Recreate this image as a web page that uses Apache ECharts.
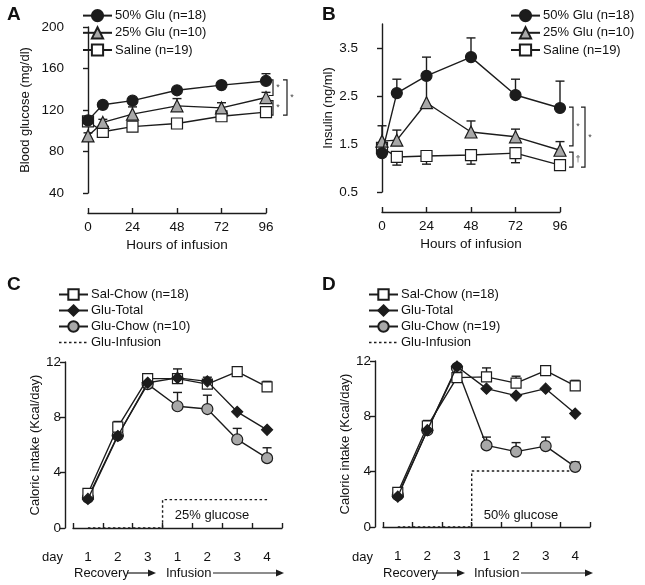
<!DOCTYPE html>
<html><head><meta charset="utf-8">
<script src="https://cdn.jsdelivr.net/npm/echarts@6/dist/echarts.min.js"></script>
<style>html,body{margin:0;padding:0;background:#fff}#c{width:645px;height:585px}</style>
</head><body><div id="c"></div>
<script>
// ---------- Data ----------
const hours = [0, 8, 24, 48, 72, 96];
const hourTicks = [0, 24, 48, 72, 96];
// Panel A: blood glucose (mg/dl)
const A_glu50 = [110, 125, 129, 139, 144, 148];
const A_glu50_err = [3, 2, 2, 2, 3, 7];
const A_glu25 = [95, 108, 116, 124, 122, 132];
const A_glu25_err = [3, 3, 7, 7, 5, 5];
const A_saline = [109, 99, 104, 107, 114, 118];
const A_saline_err = [2, 2, 2, 2, 2, 2];
const A_ticks = [40, 80, 120, 160, 200];
// Panel B: insulin (ng/ml)
const B_glu50 = [1.31, 2.56, 2.92, 3.31, 2.52, 2.25];
const B_glu50_err = [0.05, 0.29, 0.39, 0.40, 0.33, 0.56];
const B_glu25 = [1.56, 1.58, 2.36, 1.75, 1.65, 1.37];
const B_glu25_err = [0.32, 0.21, 0.50, 0.23, 0.16, 0.18];
const B_saline = [1.42, 1.23, 1.25, 1.27, 1.31, 1.06];
const B_saline_err = [0.05, 0.17, 0.17, 0.19, 0.20, 0.05];
const B_ticks = [0.5, 1.5, 2.5, 3.5];
// Panels C/D: caloric intake (Kcal/day)
const days = ['1', '2', '3', '1', '2', '3', '4'];
const dayIdx = [0, 1, 2, 3, 4, 5, 6];
const C_salChow = [2.5, 7.3, 10.8, 10.8, 10.4, 11.3, 10.2];
const C_salChow_err = [0.2, 0.4, 0.3, 0.7, 0.5, 0.3, 0.4];
const C_gluTotal = [2.1, 6.65, 10.5, 10.85, 10.6, 8.4, 7.1];
const C_gluChow = [2.2, 6.7, 10.4, 8.8, 8.6, 6.4, 5.05];
const C_gluChow_err = [0, 0, 0, 1.0, 1.0, 0.8, 0.75];
const C_infusion = [0, 0, 0, 2.05, 2.05, 2.05, 2.05];
const D_salChow = [2.5, 7.3, 10.8, 10.85, 10.4, 11.3, 10.2];
const D_salChow_err = [0.2, 0.4, 0.3, 0.65, 0.5, 0.3, 0.4];
const D_gluTotal = [2.2, 7.0, 11.6, 10.0, 9.5, 10.0, 8.2];
const D_gluChow = [2.3, 7.0, 11.5, 5.9, 5.45, 5.85, 4.35];
const D_gluChow_err = [0, 0, 0, 0.6, 0.65, 0.65, 0.35];
const D_infusion = [0, 0, 0, 4.05, 4.05, 4.05, 4.05];
// significance brackets [yTop, yBottom, mark]
const A_brackets = [[149, 134, '*'], [129, 115, '*']];
const A_outer = [[149, 115, '*']];
const B_brackets = [[2.27, 1.46, '*'], [1.33, 1.02, '\u2020']];
const B_outer = [[2.27, 1.02, '*']];

// ---------- Styles ----------
const FONT = 'Liberation Sans';
const INK = '#1c1c1c';
const GREY = '#a8a8a8';
const LW = 1.4;

function pairs(xs, ys) { return ys.map((v, i) => [xs[i], v]); }

function lineSeries(name, data, xi, symbol, fill, size, z) {
  return {
    type: 'line', name, data, xAxisIndex: xi, yAxisIndex: xi,
    symbol, symbolSize: size, showSymbol: true,
    lineStyle: { color: INK, width: LW },
    itemStyle: { color: fill, borderColor: INK, borderWidth: 1.2 },
    z: z || 3, animation: false, clip: false
  };
}
function stepSeries(name, data, xi) {
  return {
    type: 'line', name, data, xAxisIndex: xi, yAxisIndex: xi, step: 'middle',
    symbol: 'none', lineStyle: { color: INK, width: 1.4, type: [2.5, 2.5] },
    itemStyle: { color: INK }, z: 2, animation: false, clip: false
  };
}
function errSeries(xs, ys, errs, xi, dir) {
  const data = ys.map((v, i) => [xs[i], v, v + dir * errs[i]]);
  return {
    type: 'custom', xAxisIndex: xi, yAxisIndex: xi, data, z: 1, silent: true,
    encode: { x: 0, y: [1, 2] }, clip: false, animation: false,
    renderItem(params, api) {
      const p0 = api.coord([api.value(0), api.value(1)]);
      const p1 = api.coord([api.value(0), api.value(2)]);
      const st = { stroke: INK, lineWidth: LW };
      return { type: 'group', children: [
        { type: 'line', shape: { x1: p0[0], y1: p0[1], x2: p1[0], y2: p1[1] }, style: st },
        { type: 'line', shape: { x1: p1[0] - 4.5, y1: p1[1], x2: p1[0] + 4.5, y2: p1[1] }, style: st }
      ] };
    }
  };
}
function bracketSeries(list, xi, xv, gap) {
  return {
    type: 'custom', xAxisIndex: xi, yAxisIndex: xi, silent: true,
    data: list.map(b => [xv, b[0], b[1]]), encode: { x: 0, y: [1, 2] },
    clip: false, animation: false, z: 2,
    renderItem(params, api) {
      const a = api.coord([api.value(0), api.value(1)]);
      const b = api.coord([api.value(0), api.value(2)]);
      const x = a[0] + gap;
      const st = { stroke: INK, lineWidth: 1.2, fill: null };
      return { type: 'group', children: [
        { type: 'polyline', shape: { points: [[x - 4, a[1]], [x, a[1]], [x, b[1]], [x - 4, b[1]]] }, style: st },
        { type: 'text', x: x + 5, y: (a[1] + b[1]) / 2, style: { text: list[params.dataIndex][2], fontSize: 9, fill: '#444', fontFamily: FONT, align: 'center', verticalAlign: 'middle' } }
      ] };
    }
  };
}

const axisLineStyle = { lineStyle: { color: INK, width: LW } };
const labelStyle = { color: '#111', fontSize: 13.5, fontFamily: FONT };
function yAx(gi, min, max, ticks, name, nameGap, offset) {
  return {
    gridIndex: gi, type: 'value', min, max, offset,
    name, nameLocation: 'middle', nameGap, nameRotate: 90,
    nameTextStyle: { color: '#111', fontSize: 13, fontFamily: FONT },
    axisLine: Object.assign({ show: true }, axisLineStyle),
    axisTick: { show: true, length: 5, customValues: ticks, lineStyle: { color: INK, width: LW } },
    axisLabel: Object.assign({ margin: 4, customValues: ticks }, labelStyle),
    splitLine: { show: false }
  };
}
function xHours(gi) {
  return {
    gridIndex: gi, type: 'value', min: 0, max: 96, offset: 20,
    name: 'Hours of infusion', nameLocation: 'middle', nameGap: 25,
    nameTextStyle: { color: '#111', fontSize: 13.5, fontFamily: FONT },
    axisLine: Object.assign({ show: true }, axisLineStyle),
    axisTick: { show: true, inside: true, length: 5, customValues: hourTicks, lineStyle: { color: INK, width: LW } },
    axisLabel: Object.assign({ margin: 7, customValues: hourTicks }, labelStyle),
    splitLine: { show: false }
  };
}
function xDays(gi) {
  return {
    gridIndex: gi, type: 'category', data: days, boundaryGap: true, offset: 17,
    axisLine: Object.assign({ show: true }, axisLineStyle),
    axisTick: { show: true, inside: true, length: 5, alignWithLabel: false, lineStyle: { color: INK, width: LW } },
    axisLabel: Object.assign({ margin: 5 }, labelStyle),
    splitLine: { show: false }
  };
}
function legend(left, top, names, ih, gap) {
  return {
    left, top, orient: 'vertical', selectedMode: false,
    data: names.map(n => n === 'Glu-Infusion'
      ? { name: n, itemStyle: { opacity: 0 }, lineStyle: { type: [2.5, 2.5], width: 1.4, color: INK } }
      : { name: n }),
    itemWidth: 29, itemHeight: ih, itemGap: gap, padding: [5, 5, 5, 5],
    textStyle: { color: '#111', fontSize: 13, fontFamily: FONT, padding: [0, 0, 0, -2] }
  };
}

function arrowGroup(x1, x2, y) {
  return { type: 'group', children: [
    { type: 'line', shape: { x1, y1: y, x2: x2 - 6, y2: y }, style: { stroke: INK, lineWidth: 1.2 } },
    { type: 'polygon', shape: { points: [[x2, y], [x2 - 8, y - 3.5], [x2 - 8, y + 3.5]] }, style: { fill: INK } }
  ] };
}
function txt(x, y, text, size, weight, align) {
  return { type: 'text', x, y, style: { text, fontSize: size, fontWeight: weight || 'normal', fontFamily: FONT, fill: '#111', align: align || 'left', verticalAlign: 'middle' } };
}

const option = {
  backgroundColor: '#fff',
  animation: false,
  grid: [
    { left: 88, top: 27, width: 178, height: 166 },
    { left: 382, top: 24, width: 178, height: 168 },
    { left: 73, top: 362, width: 209, height: 166 },
    { left: 383, top: 361, width: 207, height: 166 }
  ],
  xAxis: [xHours(0), xHours(1), xDays(2), xDays(3)],
  yAxis: [
    yAx(0, 40, 200, A_ticks, 'Blood glucose (mg/dl)', 36, 20),
    yAx(1, 0.5, 4, B_ticks, 'Insulin (ng/ml)', 27, 20),
    yAx(2, 0, 12, [0, 4, 8, 12], 'Caloric intake (Kcal/day)', 23, 8),
    yAx(3, 0, 12, [0, 4, 8, 12], 'Caloric intake (Kcal/day)', 23, 8)
  ],
  legend: [
    legend(77, 4, ['50% Glu (n=18)', '25% Glu (n=10)', 'Saline (n=19)'], 14, 4),
    legend(505, 4, ['50% Glu (n=18)', '25% Glu (n=10)', 'Saline (n=19)'], 14, 4),
    legend(53, 283, ['Sal-Chow (n=18)', 'Glu-Total', 'Glu-Chow (n=10)', 'Glu-Infusion'], 13, 3),
    legend(363, 283, ['Sal-Chow (n=18)', 'Glu-Total', 'Glu-Chow (n=19)', 'Glu-Infusion'], 13, 3)
  ],
  series: [
    // A
    errSeries(hours, A_saline, A_saline_err, 0, 1),
    errSeries(hours, A_glu25, A_glu25_err, 0, 1),
    errSeries(hours, A_glu50, A_glu50_err, 0, 1),
    lineSeries('Saline (n=19)', pairs(hours, A_saline), 0, 'rect', '#fff', 11, 3),
    lineSeries('25% Glu (n=10)', pairs(hours, A_glu25), 0, 'triangle', GREY, 12, 4),
    lineSeries('50% Glu (n=18)', pairs(hours, A_glu50), 0, 'circle', INK, 11, 5),
    bracketSeries(A_brackets, 0, 96, 7),
    bracketSeries(A_outer, 0, 96, 21),
    // B
    errSeries(hours, B_saline, B_saline_err, 1, -1),
    errSeries(hours, B_glu25, B_glu25_err, 1, 1),
    errSeries(hours, B_glu50, B_glu50_err, 1, 1),
    lineSeries('Saline (n=19)', pairs(hours, B_saline), 1, 'rect', '#fff', 11, 3),
    lineSeries('25% Glu (n=10)', pairs(hours, B_glu25), 1, 'triangle', GREY, 12, 4),
    lineSeries('50% Glu (n=18)', pairs(hours, B_glu50), 1, 'circle', INK, 11, 5),
    bracketSeries(B_brackets, 1, 96, 13),
    bracketSeries(B_outer, 1, 96, 25),
    // C
    stepSeries('Glu-Infusion', pairs(dayIdx, C_infusion), 2),
    errSeries(dayIdx, C_gluChow, C_gluChow_err, 2, 1),
    errSeries(dayIdx, C_salChow, C_salChow_err, 2, 1),
    lineSeries('Glu-Chow (n=10)', pairs(dayIdx, C_gluChow), 2, 'circle', GREY, 11, 3),
    lineSeries('Sal-Chow (n=18)', pairs(dayIdx, C_salChow), 2, 'rect', '#fff', 10, 4),
    lineSeries('Glu-Total', pairs(dayIdx, C_gluTotal), 2, 'diamond', INK, 11, 5),
    // D
    stepSeries('Glu-Infusion', pairs(dayIdx, D_infusion), 3),
    errSeries(dayIdx, D_gluChow, D_gluChow_err, 3, 1),
    errSeries(dayIdx, D_salChow, D_salChow_err, 3, 1),
    lineSeries('Glu-Chow (n=19)', pairs(dayIdx, D_gluChow), 3, 'circle', GREY, 11, 3),
    lineSeries('Sal-Chow (n=18)', pairs(dayIdx, D_salChow), 3, 'rect', '#fff', 10, 4),
    lineSeries('Glu-Total', pairs(dayIdx, D_gluTotal), 3, 'diamond', INK, 11, 5)
  ],
  graphic: [
    txt(7, 15, 'A', 19, 'bold'),
    txt(322, 15, 'B', 19, 'bold'),
    txt(7, 285, 'C', 19, 'bold'),
    txt(322, 285, 'D', 19, 'bold'),
    txt(212, 515, '25% glucose', 13, 'normal', 'center'),
    txt(521, 515, '50% glucose', 13, 'normal', 'center'),
    txt(42, 557, 'day', 13),
    txt(352, 557, 'day', 13),
    txt(74, 573, 'Recovery', 13),
    arrowGroup(127, 156, 573),
    txt(166, 573, 'Infusion', 13),
    arrowGroup(213, 284, 573),
    txt(383, 573, 'Recovery', 13),
    arrowGroup(436, 465, 573),
    txt(474, 573, 'Infusion', 13),
    arrowGroup(521, 593, 573)
  ]
};
const chart = echarts.init(document.getElementById('c'), null, { renderer: 'canvas' });
chart.setOption(option);
</script>
</body></html>
